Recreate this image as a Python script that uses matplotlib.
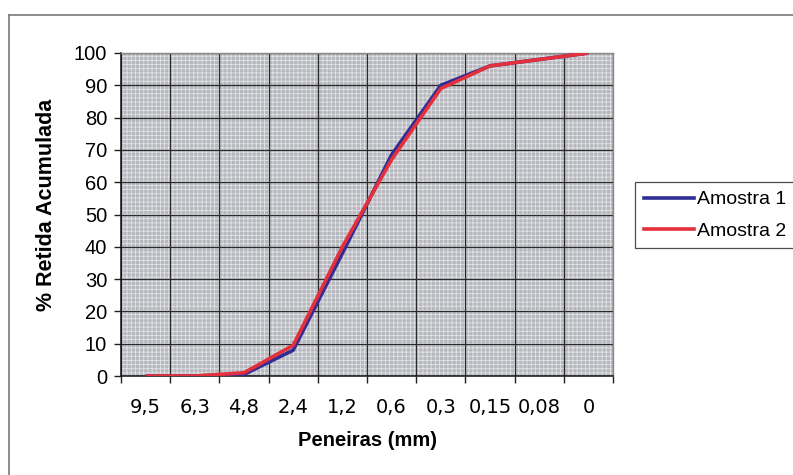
import matplotlib
matplotlib.use("Agg")
import matplotlib.pyplot as plt
from matplotlib.patches import Rectangle
from matplotlib.lines import Line2D
import numpy as np

# Sieve openings (mm) and cumulative retained percentages
peneiras = ["9,5", "6,3", "4,8", "2,4", "1,2", "0,6", "0,3", "0,15", "0,08", "0"]
amostra_1 = [0, 0, 0.5, 8, 38, 68.5, 90, 96, 98, 100]
amostra_2 = [0, 0, 1, 9.5, 40, 67, 89, 96, 98, 100]
y_ticks = list(range(0, 101, 10))

plt.rcParams["font.family"] = ["Liberation Sans", "DejaVu Sans"]
plt.rcParams["hatch.linewidth"] = 0.6

fig = plt.figure(figsize=(7.93, 4.75), dpi=100)
fig.patch.set_facecolor("white")
ax = fig.add_axes([121 / 793, 1 - 376 / 475, 492 / 793, 323 / 475])

# dotted grey plot background
ax.set_facecolor("#c4c6cb")
ax.add_patch(Rectangle((0, 0), 1, 1, transform=ax.transAxes, facecolor="#b6b8be",
                       edgecolor="#e2e3e6", hatch="++++", lw=0, zorder=0))

x = np.arange(len(peneiras))
blue = "#2e2e96"
red = "#e3303c"
ax.plot(x, amostra_1, color=blue, lw=2.6, zorder=3, solid_capstyle="butt")
ax.plot(x, amostra_2, color=red, lw=2.6, zorder=4, solid_capstyle="butt")

ax.set_xlim(-0.5, len(peneiras) - 0.5)
ax.set_ylim(0, 100)

# category boundaries carry the tick marks and gridlines; labels sit at centres
ax.set_xticks(np.arange(-0.5, len(peneiras), 1.0))
ax.set_xticklabels([])
ax.set_xticks(x, minor=True)
ax.set_xticklabels(peneiras, minor=True, fontsize=14, family="DejaVu Sans")
ax.tick_params(axis="x", which="major", direction="out", length=5, width=1, color="#222222")
ax.tick_params(axis="x", which="minor", length=0, pad=16)

ax.set_yticks(y_ticks)
ax.set_yticklabels([str(v) for v in y_ticks], fontsize=14.5)
ax.tick_params(axis="y", direction="out", length=5, width=1, pad=5, color="#222222")

ax.grid(True, which="major", color="#2a2a2a", lw=0.9, zorder=1)
ax.set_axisbelow(True)

for side in ("left", "bottom"):
    ax.spines[side].set_color("#111111")
    ax.spines[side].set_linewidth(1.1)
for side in ("top", "right"):
    ax.spines[side].set_color("#8a8a8a")
    ax.spines[side].set_linewidth(1.0)

fig.text(368 / 793, 1 - 441 / 475, "Peneiras (mm)", ha="center", va="center",
         fontsize=14.5, fontweight="bold")
fig.text(47 / 793, 1 - 205 / 475, "% Retida Acumulada", ha="center", va="center",
         rotation=90, fontsize=15.5, fontweight="bold")

handles = [Line2D([], [], color=blue, lw=2.6), Line2D([], [], color=red, lw=2.6)]
leg = fig.legend(handles, ["Amostra 1", "Amostra 2"], loc="upper left",
                 bbox_to_anchor=(635 / 793, 1 - 182 / 475), fontsize=14,
                 frameon=True, fancybox=False, shadow=False, handlelength=2.6,
                 handletextpad=0.15, labelspacing=0.7, borderpad=0.45,
                 borderaxespad=0)
leg.get_frame().set_edgecolor("#222222")
leg.get_frame().set_linewidth(0.9)

# outer chart border
fig.add_artist(Line2D([9 / 793, 9 / 793], [0, 1 - 15 / 475], transform=fig.transFigure,
                      color="#7a7a7a", lw=1.2))
fig.add_artist(Line2D([9 / 793, 1], [1 - 15 / 475, 1 - 15 / 475], transform=fig.transFigure,
                      color="#7a7a7a", lw=1.2))

fig.savefig("out.png", dpi=100)
